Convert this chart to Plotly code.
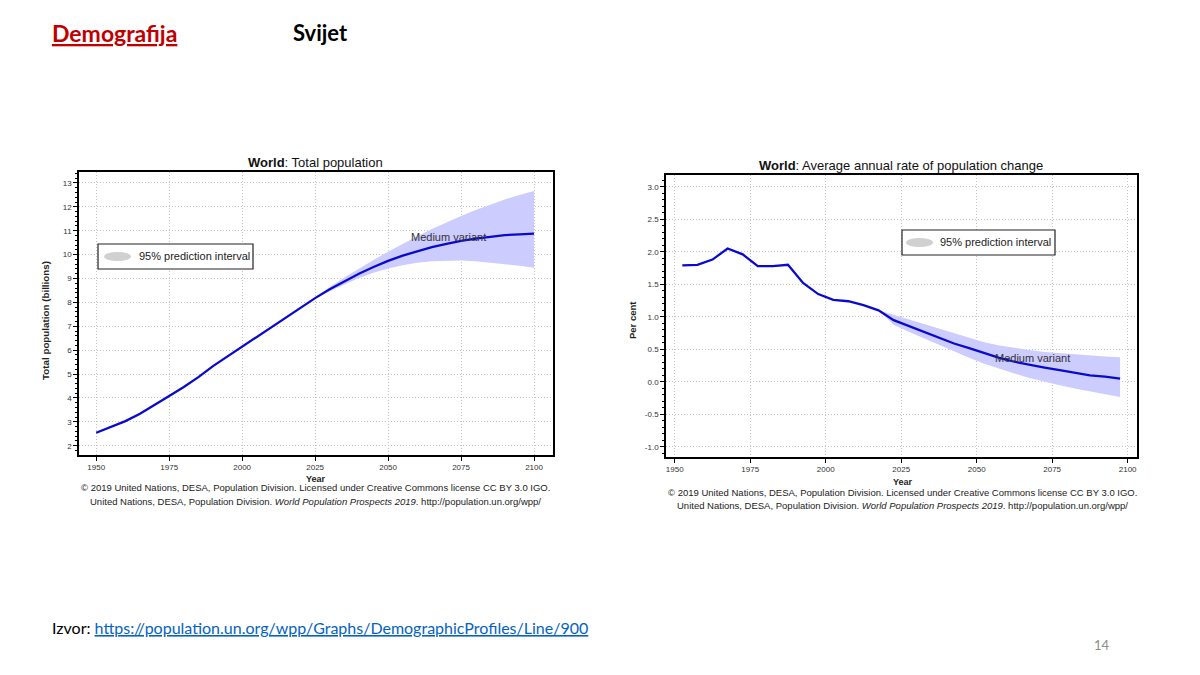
import plotly.graph_objects as go

# ---------------- data ----------------
pop_years = [1950, 1955, 1960, 1965, 1970, 1975, 1980, 1985, 1990, 1995, 2000,
             2005, 2010, 2015, 2020, 2025, 2030, 2035, 2040, 2045, 2050,
             2055, 2060, 2065, 2070, 2075, 2080, 2085, 2090, 2095, 2100]
pop_medium = [2.54, 2.77, 3.03, 3.34, 3.70, 4.08, 4.46, 4.87, 5.33, 5.74, 6.14,
              6.54, 6.96, 7.38, 7.79, 8.18, 8.55, 8.89, 9.20, 9.48, 9.74,
              9.96, 10.15, 10.31, 10.45, 10.58, 10.67, 10.75, 10.82, 10.85, 10.88]
pi_years = [2020, 2025, 2030, 2035, 2040, 2045, 2050, 2055, 2060, 2065, 2070,
            2075, 2080, 2085, 2090, 2095, 2100]
pop_lower = [7.79, 8.15, 8.47, 8.76, 9.02, 9.24, 9.42, 9.56, 9.66, 9.72, 9.75,
             9.75, 9.72, 9.67, 9.60, 9.53, 9.45]
pop_upper = [7.79, 8.22, 8.64, 9.04, 9.42, 9.78, 10.12, 10.45, 10.77, 11.07, 11.35,
             11.62, 11.87, 12.10, 12.31, 12.50, 12.66]

rate_years = [1952.5, 1957.5, 1962.5, 1967.5, 1972.5, 1977.5, 1982.5, 1987.5,
              1992.5, 1997.5, 2002.5, 2007.5, 2012.5, 2017.5, 2022.5, 2027.5,
              2032.5, 2037.5, 2042.5, 2047.5, 2052.5, 2057.5, 2062.5, 2067.5,
              2072.5, 2077.5, 2082.5, 2087.5, 2092.5, 2097.5]
rate_medium = [1.79, 1.80, 1.88, 2.05, 1.96, 1.78, 1.78, 1.80, 1.52, 1.35,
               1.26, 1.24, 1.18, 1.10, 0.95, 0.86, 0.77, 0.68, 0.59, 0.52,
               0.44, 0.37, 0.31, 0.26, 0.22, 0.18, 0.14, 0.10, 0.08, 0.05]
rate_pi_years = [2017.5, 2022.5, 2027.5, 2032.5, 2037.5, 2042.5, 2047.5, 2052.5,
                 2057.5, 2062.5, 2067.5, 2072.5, 2077.5, 2082.5, 2087.5, 2092.5, 2097.5]
rate_lower = [1.10, 0.88, 0.77, 0.67, 0.56, 0.46, 0.37, 0.28, 0.20, 0.13, 0.06,
              0.00, -0.05, -0.10, -0.14, -0.18, -0.23]
rate_upper = [1.10, 1.03, 0.96, 0.89, 0.81, 0.74, 0.67, 0.61, 0.56, 0.52, 0.49,
              0.46, 0.44, 0.42, 0.40, 0.39, 0.38]

x_ticks = [1950, 1975, 2000, 2025, 2050, 2075, 2100]
pop_ticks = [2, 3, 4, 5, 6, 7, 8, 9, 10, 11, 12, 13]
rate_ticks = [-1.0, -0.5, 0.0, 0.5, 1.0, 1.5, 2.0, 2.5, 3.0]
rate_ticktext = ["-1.0", "-0.5", "0.0", "0.5", "1.0", "1.5", "2.0", "2.5", "3.0"]

# ---------------- style ----------------
W, H = 1200, 675
BAND = "#CCCCFF"
LINE = "#0A0ACF"
CF = "Liberation Sans"


def px(x):
    return x / W


def py(y):
    return 1 - y / H


fig = go.Figure()

# left chart
fig.add_trace(go.Scatter(x=pi_years, y=pop_lower, mode="lines", line=dict(width=0),
                         hoverinfo="skip", showlegend=False, xaxis="x", yaxis="y"))
fig.add_trace(go.Scatter(x=pi_years, y=pop_upper, mode="lines", line=dict(width=0),
                         fill="tonexty", fillcolor=BAND, hoverinfo="skip",
                         showlegend=False, xaxis="x", yaxis="y"))
fig.add_trace(go.Scatter(x=pop_years, y=pop_medium, mode="lines",
                         line=dict(color=LINE, width=2.3), showlegend=False,
                         xaxis="x", yaxis="y"))

# right chart
fig.add_trace(go.Scatter(x=rate_pi_years, y=rate_lower, mode="lines", line=dict(width=0),
                         hoverinfo="skip", showlegend=False, xaxis="x2", yaxis="y2"))
fig.add_trace(go.Scatter(x=rate_pi_years, y=rate_upper, mode="lines", line=dict(width=0),
                         fill="tonexty", fillcolor=BAND, hoverinfo="skip",
                         showlegend=False, xaxis="x2", yaxis="y2"))
fig.add_trace(go.Scatter(x=rate_years, y=rate_medium, mode="lines",
                         line=dict(color=LINE, width=2.3), showlegend=False,
                         xaxis="x2", yaxis="y2"))

axis_common = dict(showline=True, linecolor="black", linewidth=1.5, mirror=True,
                   showgrid=True, gridcolor="#c4c4c4", griddash="1px,2px", gridwidth=1,
                   ticks="outside", ticklen=4, tickcolor="black",
                   tickfont=dict(family=CF, size=8, color="#333333"),
                   zeroline=False, fixedrange=True)

fig.update_layout(
    width=W, height=H,
    margin=dict(l=0, r=0, t=0, b=0),
    paper_bgcolor="white", plot_bgcolor="white",
    showlegend=False,
    xaxis=dict(domain=[px(79), px(553)], range=[1944.1, 2106.5], tickvals=x_ticks,
               anchor="y", **axis_common),
    yaxis=dict(domain=[py(455), py(172)], range=[1.61, 13.46], tickvals=pop_ticks,
               anchor="x",
               minor=dict(dtick=0.2, ticks="outside", ticklen=2, tickcolor="black",
                          showgrid=False),
               **axis_common),
    xaxis2=dict(domain=[px(666), px(1137)], range=[1947.1, 2103.1], tickvals=x_ticks,
                anchor="y2", **axis_common),
    yaxis2=dict(domain=[py(457), py(175)], range=[-1.154, 3.18], tickvals=rate_ticks,
                ticktext=rate_ticktext, anchor="x2",
                minor=dict(dtick=0.1, ticks="outside", ticklen=2, tickcolor="black",
                           showgrid=False),
                **axis_common),
)

ann = []


def text(x, y, t, size, color="#222222", family=CF, xanchor="center", angle=0):
    ann.append(dict(x=px(x), y=py(y), xref="paper", yref="paper", text=t,
                    showarrow=False, xanchor=xanchor, yanchor="middle",
                    textangle=angle, font=dict(family=family, size=size, color=color)))


# header / footer
HF = "Lato"
text(50, 33, "<b><u>Demografija</u></b>", 23, color="#C00000", family=HF, xanchor="left")
text(291, 33, "<b>Svijet</b>", 22, color="black", family=HF, xanchor="left")
text(50, 627, "Izvor: <span style='color:#0563C1'><u>https://population.un.org/wpp/Graphs/DemographicProfiles/Line/900</u></span>",
     16, color="black", family=HF, xanchor="left")
text(1102, 645, "14", 13, color="#8c8c8c", family=HF)

# left chart texts
text(316, 162, "<b>World</b>: Total population", 13, color="#111111")
text(316, 479, "<b>Year</b>", 9, color="#222222")
text(46, 321, "<b>Total population (billions)</b>", 9.8, color="#222222", angle=-90)
text(448, 237, "Medium variant", 11, color="#333333")
text(316, 488, "© 2019 United Nations, DESA, Population Division. Licensed under Creative Commons license CC BY 3.0 IGO.", 9.5)
text(316, 501, "United Nations, DESA, Population Division. <i>World Population Prospects 2019</i>. http://population.un.org/wpp/", 9.5)
text(137, 256, "95% prediction interval", 11, color="#222222", xanchor="left")

# right chart texts
text(901, 166, "<b>World</b>: Average annual rate of population change", 13, color="#111111")
text(903, 482, "<b>Year</b>", 9, color="#222222")
text(632, 320, "<b>Per cent</b>", 9.5, color="#222222", angle=-90)
text(1032, 358, "Medium variant", 11, color="#333333")
text(903, 492, "© 2019 United Nations, DESA, Population Division. Licensed under Creative Commons license CC BY 3.0 IGO.", 9.5)
text(903, 505, "United Nations, DESA, Population Division. <i>World Population Prospects 2019</i>. http://population.un.org/wpp/", 9.5)
text(938, 242, "95% prediction interval", 11, color="#222222", xanchor="left")

fig.update_layout(annotations=ann)

shapes = []
# legend boxes
for (x0, y0, x1, y1, sx0, sx1, sy0, sy1) in [
    (98, 244, 253, 269, 104, 131, 252, 261),
    (902, 230, 1055, 255, 906, 933, 238, 247),
]:
    shapes.append(dict(type="rect", xref="paper", yref="paper",
                       x0=px(x0), x1=px(x1), y0=py(y1), y1=py(y0),
                       line=dict(color="#222222", width=1.2), fillcolor="white"))
    shapes.append(dict(type="circle", xref="paper", yref="paper",
                       x0=px(sx0), x1=px(sx1), y0=py(sy1), y1=py(sy0),
                       line=dict(width=0), fillcolor="#D0D0D0"))
fig.update_layout(shapes=shapes)

fig.write_html("out.html", config={"displayModeBar": False},
               post_script="document.body.style.margin='0px';")
